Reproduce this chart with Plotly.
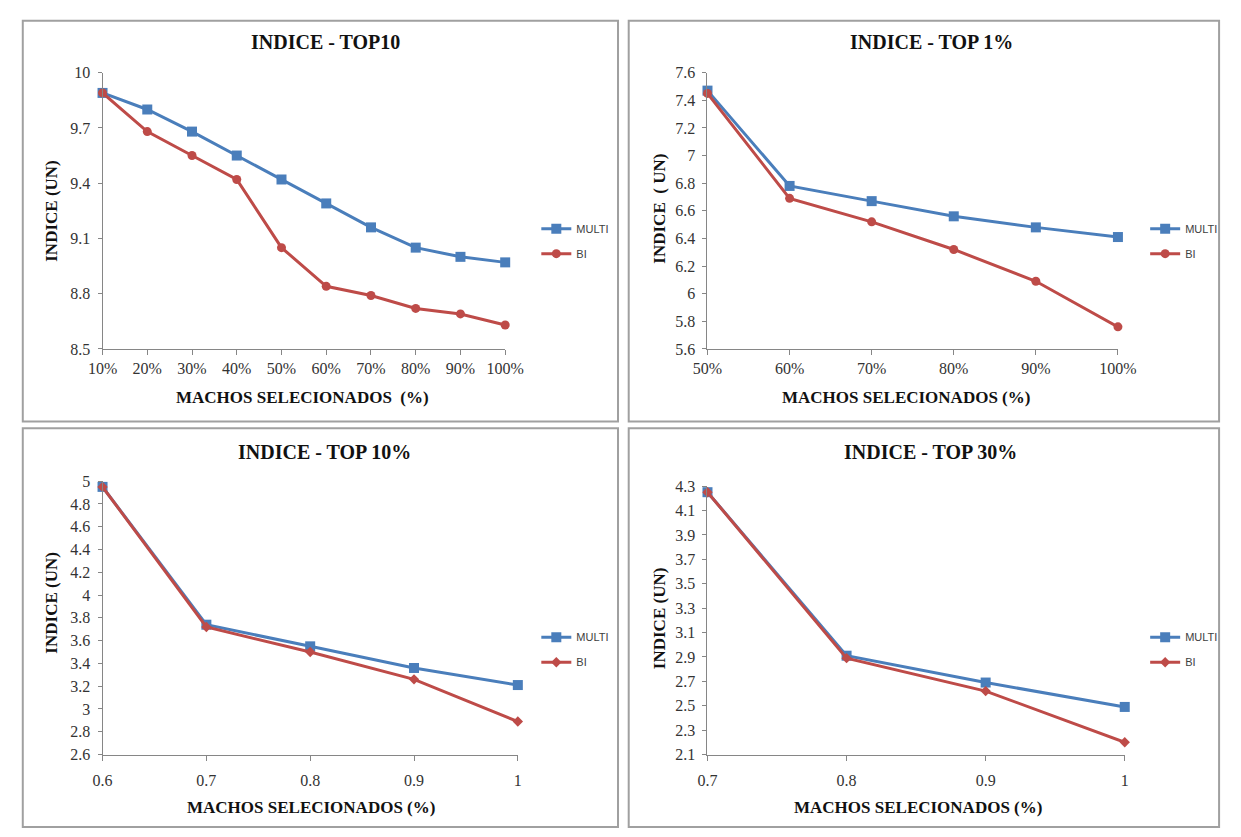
import plotly.graph_objects as go

# ---------------- data ----------------
machos_top10 = ["10%", "20%", "30%", "40%", "50%", "60%", "70%", "80%", "90%", "100%"]
multi_top10 = [9.89, 9.80, 9.68, 9.55, 9.42, 9.29, 9.16, 9.05, 9.00, 8.97]
bi_top10 = [9.89, 9.68, 9.55, 9.42, 9.05, 8.84, 8.79, 8.72, 8.69, 8.63]

machos_top1 = ["50%", "60%", "70%", "80%", "90%", "100%"]
multi_top1 = [7.47, 6.78, 6.67, 6.56, 6.48, 6.41]
bi_top1 = [7.45, 6.69, 6.52, 6.32, 6.09, 5.76]

machos_top10pct = [0.6, 0.7, 0.8, 0.9, 1.0]
multi_top10pct = [4.95, 3.74, 3.55, 3.36, 3.21]
bi_top10pct = [4.95, 3.72, 3.50, 3.26, 2.89]

machos_top30 = [0.7, 0.8, 0.9, 1.0]
multi_top30 = [4.25, 2.91, 2.69, 2.49]
bi_top30 = [4.25, 2.89, 2.62, 2.20]

titles = ["INDICE - TOP10", "INDICE - TOP 1%", "INDICE - TOP 10%", "INDICE - TOP 30%"]
ytitles = ["INDICE (UN)", "INDICE \u00a0( UN)", "INDICE (UN)", "INDICE (UN)"]
xtitles = ["MACHOS SELECIONADOS \u00a0(%)", "MACHOS SELECIONADOS (%)",
           "MACHOS SELECIONADOS (%)", "MACHOS SELECIONADOS (%)"]

W, H = 1241, 837
def fx(x):
    return x / W
def fy(y):
    return 1 - y / H

BLUE = "#4a7ebb"
RED = "#be4b48"
AXC = "#868686"
SERIF = "Liberation Serif, Times New Roman, serif"
SANS = "Liberation Sans, Arial, sans-serif"

panels = [
    dict(x=machos_top10, multi=multi_top10, bi=bi_top10, cat=True,
         xdom=(90, 504), ydom=(66, 348), yr=(8.5, 10), dt=0.3, t0=8.5, xstand=0,
         title=(319, 35), ytit=(38, 207), xtit=(296, 398), leg=(536, 238), bisym="circle"),
    dict(x=machos_top1, multi=multi_top1, bi=bi_top1, cat=True,
         xdom=(712, 1134), ydom=(66, 348), yr=(5.6, 7.6), dt=0.2, t0=5.6, xstand=0,
         title=(942, 35), ytit=(663, 205), xtit=(916, 398), leg=(1162, 238), bisym="circle"),
    dict(x=machos_top10pct, multi=multi_top10pct, bi=bi_top10pct, cat=False,
         xdom=(90, 517), ydom=(483, 762), yr=(2.6, 5.0), dt=0.2, t0=2.6, xstand=6,
         title=(318, 453), ytit=(38, 607), xtit=(304, 816), leg=(536, 655), bisym="diamond"),
    dict(x=machos_top30, multi=multi_top30, bi=bi_top30, cat=False,
         xdom=(712, 1141), ydom=(488, 762), yr=(2.1, 4.3), dt=0.2, t0=2.1, xstand=6,
         title=(941, 453), ytit=(663, 623), xtit=(928, 816), leg=(1162, 655), bisym="diamond"),
]

fig = go.Figure()
annotations = []
shapes = []

for i, p in enumerate(panels):
    n = i + 1
    xa = "x" if n == 1 else f"x{n}"
    ya = "y" if n == 1 else f"y{n}"
    lg = "legend" if n == 1 else f"legend{n}"
    fig.add_trace(go.Scatter(
        x=p["x"], y=p["multi"], name="MULTI", mode="lines+markers",
        line=dict(color=BLUE, width=3), marker=dict(symbol="square", size=10, color=BLUE),
        xaxis=xa, yaxis=ya, legend=lg, legendgroup=f"m{n}", cliponaxis=False))
    fig.add_trace(go.Scatter(
        x=p["x"], y=p["bi"], name="BI", mode="lines+markers",
        line=dict(color=RED, width=3),
        marker=dict(symbol=p["bisym"], size=9 if p["bisym"] == "circle" else 8, color=RED),
        xaxis=xa, yaxis=ya, legend=lg, legendgroup=f"b{n}", cliponaxis=False))

    xkey = "xaxis" if n == 1 else f"xaxis{n}"
    ykey = "yaxis" if n == 1 else f"yaxis{n}"
    xax = dict(domain=[fx(p["xdom"][0]), fx(p["xdom"][1])], anchor=ya,
               showline=True, linecolor=AXC, linewidth=1, showgrid=False, zeroline=False,
               ticks="outside", ticklen=5, tickcolor=AXC, ticklabelstandoff=p["xstand"],
               tickfont=dict(family=SERIF, size=16, color="#333333"), fixedrange=True)
    if p["cat"]:
        xax.update(type="category", range=[0, len(p["x"]) - 1])
    else:
        xax.update(type="linear", range=[p["x"][0], p["x"][-1]], tick0=p["x"][0], dtick=0.1)
    yax = dict(domain=[fy(p["ydom"][1]), fy(p["ydom"][0])], anchor=xa,
               range=list(p["yr"]), tick0=p["t0"], dtick=p["dt"],
               showline=True, linecolor=AXC, linewidth=1, showgrid=False, zeroline=False,
               ticks="outside", ticklen=4, tickcolor=AXC, ticklabelstandoff=4,
               tickfont=dict(family=SERIF, size=16, color="#333333"), fixedrange=True)
    fig.update_layout({xkey: xax, ykey: yax})

    fig.update_layout({lg: dict(
        x=fx(p["leg"][0]), y=fy(p["leg"][1]), xanchor="left", yanchor="middle",
        font=dict(family=SANS, size=11, color="#404040"), bgcolor="rgba(0,0,0,0)",
        tracegroupgap=6, itemclick=False, itemdoubleclick=False)})

    annotations.append(dict(x=fx(p["title"][0]), y=fy(p["title"][1]), xref="paper", yref="paper",
                            xanchor="center", yanchor="middle",
                            text=f"<b>{titles[i]}</b>", showarrow=False,
                            font=dict(family=SERIF, size=20, color="#111111")))
    annotations.append(dict(x=fx(p["ytit"][0]), y=fy(p["ytit"][1]), xref="paper", yref="paper",
                            xanchor="center", yanchor="middle",
                            text=f"<b>{ytitles[i]}</b>", showarrow=False, textangle=-90,
                            font=dict(family=SERIF, size=17, color="#111111")))
    annotations.append(dict(x=fx(p["xtit"][0]), y=fy(p["xtit"][1]), xref="paper", yref="paper",
                            xanchor="center", yanchor="middle",
                            text=f"<b>{xtitles[i]}</b>", showarrow=False,
                            font=dict(family=SERIF, size=17, color="#111111")))

# panel frames
frames = [(8, 13, 620, 422), (631, 13, 1238, 422), (8, 429, 620, 836), (631, 429, 1238, 836)]
for (x0, y0, x1, y1) in frames:
    shapes.append(dict(type="rect", xref="paper", yref="paper",
                       x0=fx(x0), x1=fx(x1), y0=fy(y1), y1=fy(y0),
                       line=dict(color="#a0a0a0", width=2), fillcolor="rgba(0,0,0,0)"))

fig.update_layout(width=W, height=H, margin=dict(l=0, r=0, t=0, b=0),
                  paper_bgcolor="white", plot_bgcolor="white",
                  annotations=annotations, shapes=shapes, showlegend=True)

fig.write_html("out.html")
